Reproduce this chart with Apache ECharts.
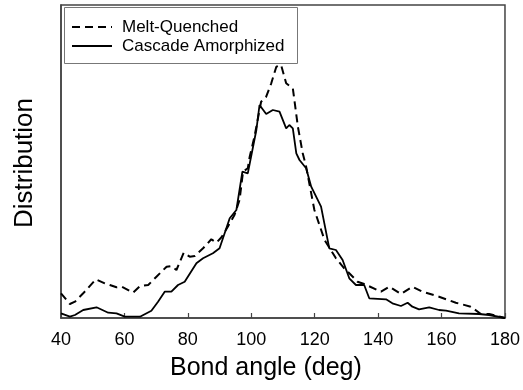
<!DOCTYPE html>
<html>
<head>
<meta charset="utf-8">
<script src="https://cdn.jsdelivr.net/npm/echarts@6/dist/echarts.min.js"></script>
<style>html,body{margin:0;padding:0;background:#fff}#c{width:523px;height:390px}</style>
</head>
<body>
<div id="c"></div>
<script>
var xTicks = [40, 60, 80, 100, 120, 140, 160, 180];
var seriesNames = ['Melt-Quenched', 'Cascade Amorphized'];

var anglesMQ = [40, 42.8, 44.4, 47.0, 51.0, 53.8, 55.4, 57.5, 59.1, 62.7, 64.9, 67.5, 70.1, 73.3, 74.8, 76.4, 78.7, 80.6, 82.2, 84.8, 87.4, 89.0, 90.6, 92.6, 94.7, 96.3, 97.4, 98.9, 99.5, 101.0, 103.1, 104.7, 106.3, 107.9, 109.4, 111.0, 113.1, 114.7, 116.2, 117.3, 119.9, 123.1, 126.7, 129.3, 132.0, 133.5, 135.6, 140.9, 143.5, 147.2, 150.8, 154.0, 159.2, 164.5, 169.2, 172.4, 175.0, 180];
var valuesMQ = [24.7, 14, 16.3, 24.7, 38.7, 34.7, 33, 30.7, 31.3, 25.3, 32, 33, 41.3, 51.3, 52, 48, 65.3, 61.3, 62, 69.7, 78.7, 75.3, 80.7, 91.3, 103, 118, 146.3, 149.7, 161.3, 181.3, 216.3, 221.3, 234.7, 251.3, 253, 234.7, 229.7, 191.3, 165, 151.3, 108, 78, 59.7, 49.7, 41.3, 36.3, 34, 26.3, 31.3, 24, 31.3, 26.3, 21.3, 15.3, 11.3, 4, 4, 0];

var anglesCA = [40, 42.8, 44.4, 47.0, 51.2, 54.9, 57.5, 60.1, 64.9, 68.5, 70.6, 72.7, 74.8, 76.9, 79.0, 82.7, 84.8, 87.9, 90.0, 93.2, 95.3, 97.2, 98.9, 101.6, 102.6, 104.7, 106.8, 108.9, 111.0, 112.0, 113.1, 114.2, 115.2, 117.3, 118.9, 122.0, 124.6, 126.7, 128.8, 130.9, 133.0, 135.6, 137.2, 142.5, 144.5, 147.2, 149.3, 150.8, 152.9, 156.1, 159.2, 161.4, 165.5, 171.8, 175.0, 180];
var valuesCA = [4.7, 1.3, 3, 8, 10.7, 5.3, 4.7, 1.3, 1.3, 7.3, 16.3, 26.3, 26.3, 33, 36.3, 54.7, 59.7, 64.7, 69.7, 99.7, 108, 146.3, 144.7, 188, 213, 204, 208, 206.3, 189.7, 193, 189.7, 164.7, 158, 149.7, 131.3, 111.3, 69.7, 68, 58, 39.7, 33, 33, 19.7, 18.7, 14.7, 12, 15.3, 11.3, 8.7, 10.7, 8, 7.3, 4.7, 4, 3, 0];

function pairs(xs, ys) { return xs.map(function (x, i) { return [x, ys[i]]; }); }

var chart = echarts.init(document.getElementById('c'), null, {renderer: 'canvas'});
var FONT = 'Liberation Sans, Arial, Helvetica, sans-serif';
var dashMQ = [8, 5];
chart.setOption({
  animation: false,
  backgroundColor: '#fff',
  grid: {left: 61, right: 17, top: 5, bottom: 72, show: true, borderColor: '#444', borderWidth: 1.5, backgroundColor: 'transparent'},
  xAxis: {
    type: 'value', min: xTicks[0], max: xTicks[xTicks.length - 1], interval: 20,
    axisLine: {show: true, lineStyle: {color: '#444', width: 1.5}},
    axisTick: {show: true, inside: true, length: 5, lineStyle: {color: '#444', width: 1.2}},
    axisLabel: {color: '#000', fontSize: 18, fontFamily: FONT, margin: 13},
    splitLine: {show: false}
  },
  yAxis: {
    type: 'value', min: 0, max: 313,
    axisLine: {show: true, lineStyle: {color: '#444', width: 1.5}},
    axisTick: {show: false}, axisLabel: {show: false}, splitLine: {show: false}
  },
  legend: {show: false},
  graphic: [
    {type: 'text', left: 170, top: 356, style: {text: 'Bond angle (deg)', fontSize: 25, fontFamily: FONT, fill: '#000'}},
    {type: 'text', x: 25, y: 163, rotation: Math.PI / 2, style: {text: 'Distribution', fontSize: 26, fontFamily: FONT, fill: '#000', align: 'center', verticalAlign: 'middle'}},
    {type: 'group', z: 100, children: [
      {type: 'rect', shape: {x: 64.5, y: 7.5, width: 233, height: 56}, style: {fill: '#fff', stroke: '#777', lineWidth: 1}},
      {type: 'line', shape: {x1: 72, y1: 27, x2: 112, y2: 27}, style: {stroke: '#000', lineWidth: 2, lineDash: dashMQ}},
      {type: 'line', shape: {x1: 72, y1: 46, x2: 112, y2: 46}, style: {stroke: '#000', lineWidth: 1.8}},
      {type: 'text', x: 122, y: 27, style: {text: seriesNames[0], fontSize: 17, fontFamily: FONT, fill: '#000', verticalAlign: 'middle'}},
      {type: 'text', x: 122, y: 46, style: {text: seriesNames[1], fontSize: 17, fontFamily: FONT, fill: '#000', verticalAlign: 'middle'}}
    ]}
  ],
  series: [
    {name: seriesNames[0], type: 'line', data: pairs(anglesMQ, valuesMQ), symbol: 'none', smooth: false,
     lineStyle: {color: '#000', width: 2, type: dashMQ}, itemStyle: {color: '#000'}},
    {name: seriesNames[1], type: 'line', data: pairs(anglesCA, valuesCA), symbol: 'none', smooth: false,
     lineStyle: {color: '#000', width: 1.8, type: 'solid'}, itemStyle: {color: '#000'}}
  ]
});
</script>
</body>
</html>
